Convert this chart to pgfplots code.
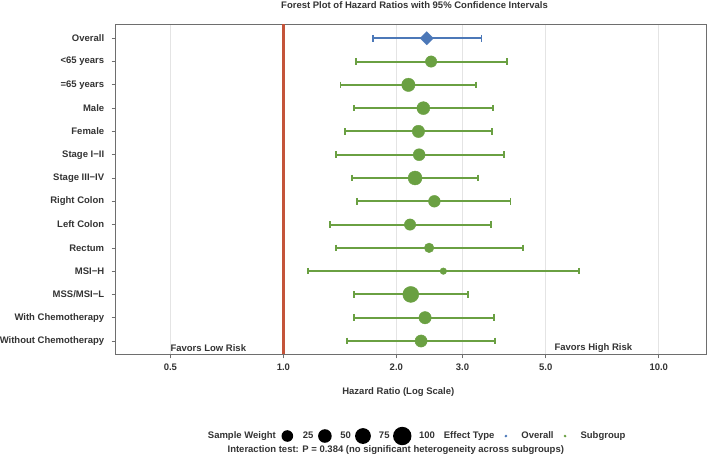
\documentclass[border=0pt]{standalone}
\usepackage{pgfplots}
\pgfplotsset{compat=1.18}
\usepackage{pgfplotstable}
\usepackage{fontspec}
\setmainfont{Liberation Sans}
\definecolor{sgreen}{RGB}{106,160,66}
\definecolor{oblue}{RGB}{76,120,184}
\definecolor{refred}{RGB}{196,84,58}
\definecolor{txt}{RGB}{51,51,51}
\definecolor{gridc}{RGB}{228,228,228}
\definecolor{framec}{RGB}{110,110,110}

% subgroup estimates: y position, hazard ratio, CI low, CI high, marker radius (pt)
\pgfplotstableread{
y hr lo hi r
13 2.475 1.559 3.94 5.7
12 2.153 1.419 3.26 6.7
11 2.36 1.543 3.62 6.5
10 2.29 1.463 3.60 6.2
9 2.30 1.382 3.87 6.0
8 2.243 1.521 3.30 7.0
7 2.525 1.574 4.03 5.9
6 2.175 1.329 3.57 5.7
5 2.445 1.382 4.35 4.8
4 2.668 1.161 6.13 3.3
3 2.185 1.543 3.11 8.0
2 2.385 1.546 3.64 6.2
1 2.327 1.475 3.66 6.1
}\subgroups

\newcommand{\bft}{\bfseries\fontsize{9.5}{11}\selectfont}
\newcommand{\ci}[3]{\addplot[forget plot, sgreen, line width=2pt, mark=|, mark size=3.3pt, mark options={solid, line width=1.8pt}] coordinates {(#1,#3) (#2,#3)};}
% legend key: colour, radius, key width
\newcommand{\keycircle}[3]{\addlegendimage{legend image code/.code={\path[draw=none,fill=none] (0pt,-5pt) rectangle (#3,5pt); \fill[#1, draw=none] ($(0.5*#3,0pt)$) circle[radius=#2];}}}
\usetikzlibrary{calc}

\begin{document}
\begin{tikzpicture}[x=1pt,y=1pt]
\useasboundingbox (0,0) rectangle (708,456);
\begin{axis}[
  at={(115.7pt,101.7pt)}, anchor=south west,
  width=591pt, height=330pt, scale only axis,
  xmode=log, log basis x=10,
  xmin=0.3576, xmax=13.42, ymin=0.429, ymax=14.6,
  xtick={0.5,1,2,3,5,10},
  xticklabels={0.5,1.0,2.0,3.0,5.0,10.0},
  minor xtick={},
  ytick={1,2,3,4,5,6,7,8,9,10,11,12,13,14},
  yticklabels={Without Chemotherapy, With Chemotherapy, MSS/MSI−L, MSI−H, Rectum, Left Colon, Right Colon, Stage III−IV, Stage I−II, Female, Male, =65 years, <65 years, Overall},
  tick pos=left, tick align=outside, major tick length=4pt,
  axis line style={framec, line width=0.7pt},
  tick style={framec, line width=0.7pt},
  xmajorgrids, ymajorgrids=false,
  grid style={gridc, line width=0.6pt},
  tick label style={font=\bft, text=txt},
  yticklabel style={xshift=-4pt},
  xticklabel style={yshift=-2pt},
  legend style={at={(0.1447,-0.2476)}, anchor=west, draw=none, fill=none, inner sep=0pt,
    font=\bft, text=txt, nodes={inner sep=0pt},
    /tikz/every odd column/.append style={column sep=6.5pt},
    /tikz/every even column/.append style={column sep=2.5pt}},
  legend columns=-1,
  legend cell align=left,
]
\addplot[forget plot, refred, line width=2.6pt] coordinates {(1,0.429) (1,14.6)};

% overall
\addplot[forget plot, oblue, line width=2pt, mark=|, mark size=3.3pt, mark options={solid, line width=1.8pt}] coordinates {(1.73,14) (3.37,14)};
\addplot[forget plot, only marks, mark=square*, mark size=4.7pt, mark options={rotate=45, fill=oblue, draw=oblue}] coordinates {(2.41,14)};

% subgroup confidence intervals
\ci{1.559}{3.94}{13}
\ci{1.419}{3.26}{12}
\ci{1.543}{3.62}{11}
\ci{1.463}{3.60}{10}
\ci{1.382}{3.87}{9}
\ci{1.521}{3.30}{8}
\ci{1.574}{4.03}{7}
\ci{1.329}{3.57}{6}
\ci{1.382}{4.35}{5}
\ci{1.161}{6.13}{4}
\ci{1.543}{3.11}{3}
\ci{1.546}{3.64}{2}
\ci{1.475}{3.66}{1}

% subgroup point estimates
\addplot[forget plot, only marks, scatter, mark=*,
  scatter/use mapped color={draw=sgreen, fill=sgreen},
  visualization depends on={\thisrow{r} \as \rad},
  scatter/@pre marker code/.append style={/tikz/mark size=\rad}]
  table[x=hr, y=y] {\subgroups};

\node[anchor=west, inner sep=0pt, font=\bft, text=txt] at (axis cs:0.5,0.687) {Favors Low Risk};
\node[anchor=west, inner sep=0pt, font=\bft, text=txt] at (axis cs:5.27,0.687) {Favors High Risk};

% legend
\addlegendimage{legend image code/.code={}}
\addlegendentry{Sample Weight}
\keycircle{black}{5.8pt}{18pt}
\addlegendentry{25}
\keycircle{black}{6.8pt}{18pt}
\addlegendentry{50}
\keycircle{black}{7.9pt}{19pt}
\addlegendentry{75}
\keycircle{black}{9.2pt}{20.5pt}
\addlegendentry{100}
\addlegendimage{legend image code/.code={}}
\addlegendentry{Effect Type}
\keycircle{oblue}{1.4pt}{18pt}
\addlegendentry{Overall}
\keycircle{sgreen}{1.4pt}{18pt}
\addlegendentry{Subgroup}
\end{axis}
\node[font=\bft, text=txt] at (414.5,450.5) {Forest Plot of Hazard Ratios with 95\% Confidence Intervals};
\node[font=\bft, text=txt] at (398.3,63.7) {Hazard Ratio (Log Scale)};
\node[font=\bft, text=txt] at (395.8,6.4) {Interaction test: P = 0.384 (no significant heterogeneity across subgroups)};
\end{tikzpicture}
\end{document}
